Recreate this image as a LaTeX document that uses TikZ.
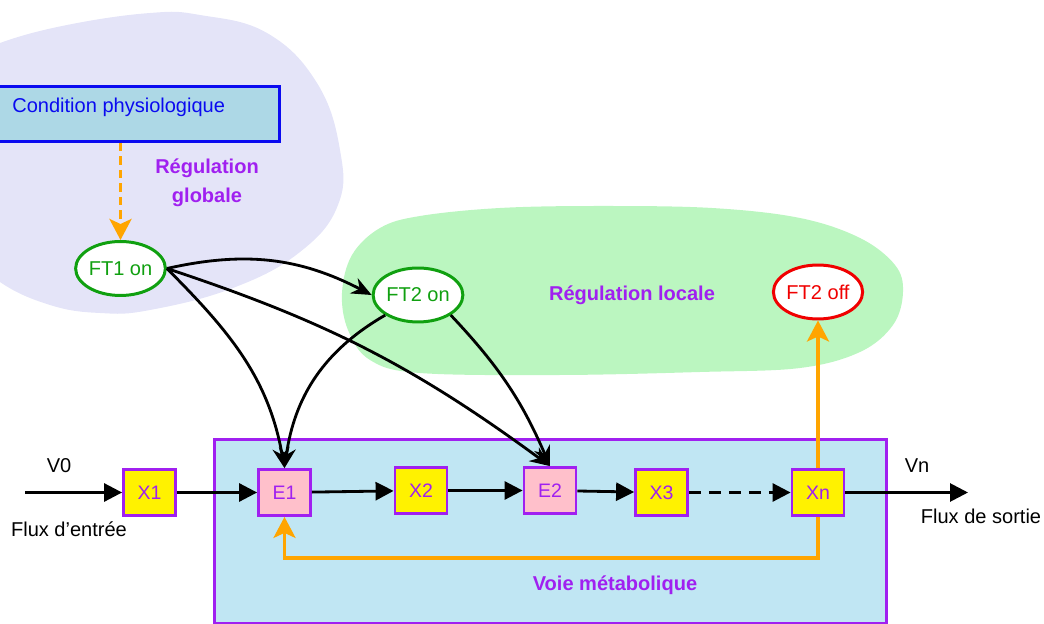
\documentclass[tikz,border=0pt]{standalone}
\usepackage{fontspec}
\setmainfont{Liberation Sans}
\usetikzlibrary{arrows.meta,shapes.geometric,calc}
\definecolor{lav}{RGB}{228,228,248}
\definecolor{lgreen}{RGB}{187,246,192}
\definecolor{voiefill}{RGB}{192,230,243}
\definecolor{condfill}{RGB}{173,216,230}
\definecolor{purp}{RGB}{160,32,240}
\definecolor{grn}{RGB}{16,160,16}
\definecolor{orng}{RGB}{255,165,0}
\definecolor{pinkf}{RGB}{255,192,203}
\definecolor{condblue}{RGB}{10,10,240}
\definecolor{redc}{RGB}{240,0,0}
\begin{document}
\begin{tikzpicture}[x=0.02cm,y=-0.02cm,
  txt/.style={font=\fontsize{11.4}{13.7}\selectfont, inner sep=0pt},
  lbl/.style={font=\fontsize{11.4}{16.4}\selectfont\bfseries, inner sep=0pt, text=purp, align=center},
  sq/.style={draw=purp, line width=1.6pt, minimum width=1.04cm, minimum height=0.92cm, inner sep=0pt, text=purp, font=\fontsize{11.1}{13}\selectfont},
  xbox/.style={sq, fill=yellow},
  ebox/.style={sq, fill=pinkf},
  ftell/.style={ellipse, line width=1.7pt, fill=white, minimum width=1.78cm, minimum height=1.08cm, inner sep=0pt, font=\fontsize{11.4}{13.7}\selectfont},
  flow/.style={line width=1.6pt, -{Triangle[length=0.36cm,width=0.36cm]}},
  reg/.style={line width=1.6pt, -{Stealth[length=0.4cm,width=0.34cm]}},
  fb/.style={draw=orng, line width=1.9pt, -{Stealth[length=0.42cm,width=0.44cm,inset=0.1cm]}}
]
\useasboundingbox (0,0) rectangle (1044,624);
% blobs
\fill[lav] plot[smooth cycle, tension=0.7] coordinates {(-30,60) (0,43) (67,25) (150,13) (200,15) (267,33) (317,83) (340,150) (338,205) (300,252) (233,288) (150,310) (100,313) (50,305) (0,282) (-30,250)};
\fill[lgreen] plot[smooth cycle, tension=0.6] coordinates {(342,293) (352,255) (380,228) (420,216) (500,208) (600,206) (712,208) (800,218) (860,238) (895,265) (903,292) (893,325) (860,352) (800,368) (700,372) (560,375) (420,373) (370,360) (348,330)};
% boxes
\node[draw=condblue, fill=condfill, line width=1.6pt, minimum width=5.76cm, minimum height=1.1cm, anchor=north west, inner sep=0pt] (cond) at (-10,85) {};
\node[txt, text=condblue, anchor=west] (condtxt) at (12,107) {Condition physiologique};
\node[draw=purp, fill=voiefill, line width=1.6pt, minimum width=13.44cm, minimum height=3.68cm, anchor=north west, inner sep=0pt] (voie) at (213,438) {};
% labels
\node[lbl] (rg) at (207,183) {Régulation\\globale};
\node[lbl] (rl) at (632,295) {Régulation locale};
\node[lbl] (vm) at (615,585) {Voie métabolique};
% ellipses
\node[ftell, draw=grn, text=grn] (ft1) at (120.5,268.5) {FT1 on};
\node[ftell, draw=grn, text=grn] (ft2on) at (418,295) {FT2 on};
\node[ftell, draw=redc, text=redc] (ft2off) at (818,292) {FT2 off};
% metabolic nodes
\node[xbox] (x1) at (149.5,492.5) {X1};
\node[ebox] (e1) at (284.5,492.5) {E1};
\node[xbox] (x2) at (421,490.5) {X2};
\node[ebox] (e2) at (550,490.5) {E2};
\node[xbox] (x3) at (661.5,492.5) {X3};
\node[xbox] (xn) at (818,492.5) {Xn};
\coordinate (inc) at (25,492.5);
\coordinate (outc) at (968,492.5);
\coordinate (fbc) at (550,558);
% flow
\draw[flow] (inc) -- (x1);
\draw[flow] (x1) -- (e1);
\draw[flow] (e1) -- (x2);
\draw[flow] (x2) -- (e2);
\draw[flow] (e2) -- (x3);
\draw[flow, dash pattern=on 0.24cm off 0.16cm] (x3) -- (xn);
\draw[flow] (xn) -- (outc);
% feedback
\draw[fb] (xn.south) |- (fbc) -| (e1.south);
\draw[fb] (xn.north) -- (ft2off.south);
\draw[fb, dash pattern=on 0.17cm off 0.1cm] (cond.south -| ft1.north) -- (ft1.north);
% regulation
\draw[reg] (ft1.east) to[bend left=20] (ft2on.west);
\draw[reg] (ft1.east) to[out=-45, in=100] (e1.north);
\draw[reg] (ft1.east) to[bend left=9] (e2.north);
\draw[reg] (ft2on.south west) to[out=210, in=82] (e1.north);
\draw[reg] (ft2on.south east) to[bend left=10] (e2.north);
% texts
\node[txt] (v0) at (59,466) {V0};
\node[txt] (fe) at (69,529) {Flux d’entrée};
\node[txt] (vn) at (917,466) {Vn};
\node[txt] (fs) at (981,516) {Flux de sortie};
\end{tikzpicture}
\end{document}
